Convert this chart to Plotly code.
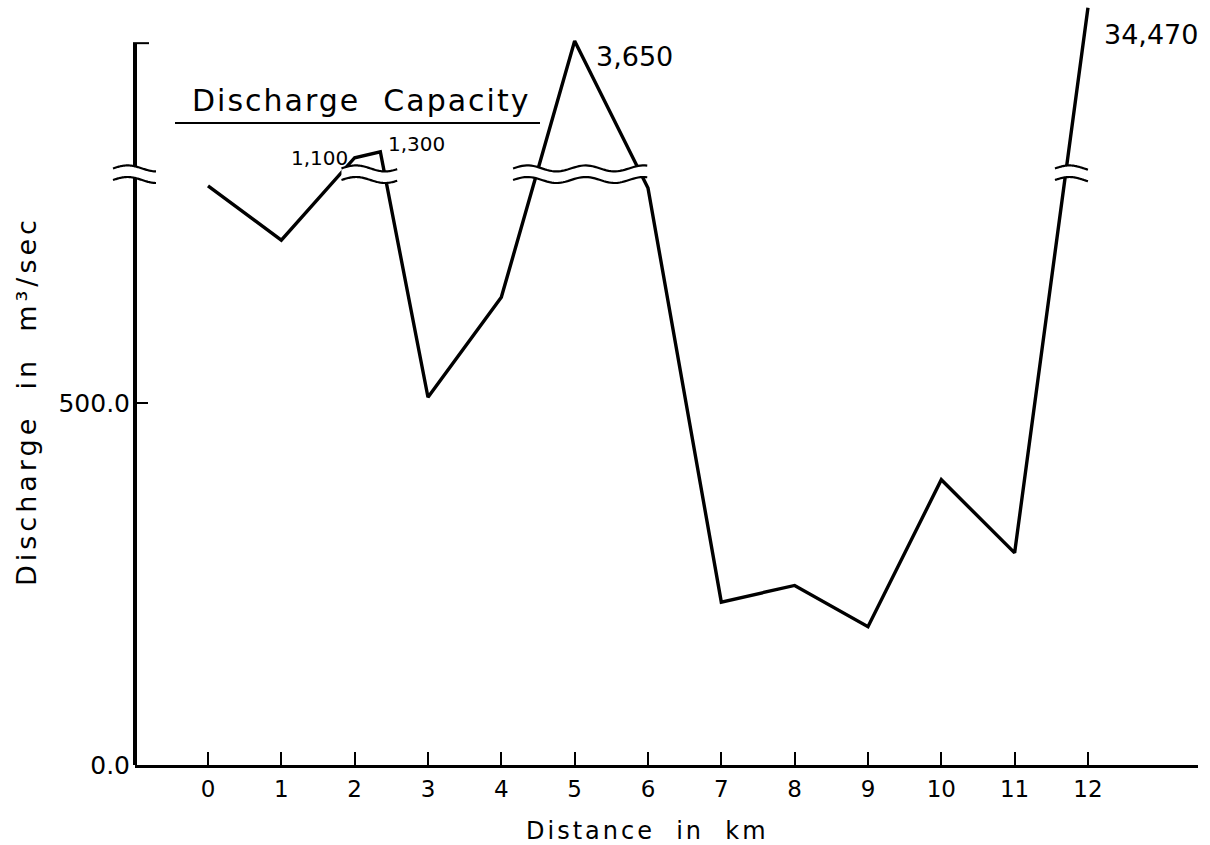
import numpy as np
import plotly.graph_objects as go

# ---------------- data ----------------
distance_km = [0, 1, 2, 2.35, 3, 4, 5, 6, 7, 8, 9, 10, 11, 12]
discharge = [800, 725, 1100, 1300, 508, 646, 3650, 797, 225, 248, 191, 394, 293, 34470]
labeled_points = [2, 3, 6, 13]           # indices of points carrying a value label

x_tick_vals = list(range(13))
x_tick_text = [str(v) for v in x_tick_vals]
y_tick_vals = [0, 500]
y_tick_text = ["0.0", "500.0"]

# broken y axis: linear below the break, compressed (log-interpolated) above it
BREAK_LOW, BREAK_HIGH = 808, 824
upper_scale_values = [815, 1300, 3650, 34470]
upper_scale_heights = [824, 847, 1000, 1046]


def axis_height(v):
    if v <= BREAK_LOW:
        return v
    return float(np.interp(np.log10(v), np.log10(upper_scale_values), upper_scale_heights))


plot_y = [axis_height(v) for v in discharge]

# ---------------- geometry ----------------
W, H = 1210, 845
ML, MR, MT, MB = 135, 12, 5, 80
PW, PH = W - ML - MR, H - MT - MB
XMIN = -0.9955
XMAX = XMIN + PW / 73.33
YMAX = PH / 0.724
AXIS_TOP = 997
FONT = "DejaVu Sans"


def xp(d):
    return (d - XMIN) / (XMAX - XMIN)


def yp(d):
    return d / YMAX


def pxx(px):
    return (px - ML) / PW


def pxy(py):
    return (H - MB - py) / PH


fig = go.Figure()
fig.add_trace(go.Scatter(x=distance_km, y=plot_y, mode="lines",
                         line=dict(color="black", width=3.4),
                         hoverinfo="skip", showlegend=False))

shapes = []
# y axis line with end cap
shapes.append(dict(type="line", xref="paper", yref="paper", x0=0, x1=0, y0=0, y1=yp(AXIS_TOP),
                   line=dict(color="black", width=4), layer="above"))
shapes.append(dict(type="line", xref="paper", yref="paper", x0=pxx(133), x1=pxx(149),
                   y0=yp(AXIS_TOP), y1=yp(AXIS_TOP), line=dict(color="black", width=2), layer="above"))
# underline of the title
shapes.append(dict(type="line", xref="paper", yref="paper", x0=pxx(175), x1=pxx(540),
                   y0=pxy(123), y1=pxy(123), line=dict(color="black", width=2), layer="above"))


def wave_pts(x0, x1, level, n=60, period_px=58):
    px0, px1 = x0 * PW, x1 * PW
    ts = np.linspace(0, 1, n)
    xs = x0 + (x1 - x0) * ts
    phase = (px1 - px0) * ts / period_px * 2 * np.pi
    ys = level + (3.0 / PH) * np.sin(phase)
    return xs, ys


def add_break(x0, x1):
    lo = yp(BREAK_LOW)
    hi = yp(BREAK_HIGH)
    xl, yl = wave_pts(x0, x1, lo)
    xh, yh = wave_pts(x0, x1, hi)
    pts = [f"{a:.5f},{b:.5f}" for a, b in zip(xl, yl)] + \
          [f"{a:.5f},{b:.5f}" for a, b in zip(xh[::-1], yh[::-1])]
    shapes.append(dict(type="path", xref="paper", yref="paper", path="M" + " L".join(pts) + " Z",
                       fillcolor="white", line=dict(width=0), layer="above"))
    for xs, ys in ((xl, yl), (xh, yh)):
        p = "M" + " L".join(f"{a:.5f},{b:.5f}" for a, b in zip(xs, ys))
        shapes.append(dict(type="path", xref="paper", yref="paper", path=p,
                           line=dict(color="black", width=2.2), layer="above"))


add_break(pxx(113), pxx(156))
add_break(xp(1.82), xp(2.58))
add_break(xp(4.16), xp(5.99))
add_break(xp(11.55), xp(12.0))

annotations = []
label_style = {
    2: dict(xanchor="right", xshift=-5, yshift=0, size=20),
    3: dict(xanchor="left", xshift=6, yshift=8, size=20),
    6: dict(xanchor="left", xshift=19, yshift=-15, size=27),
    13: dict(xanchor="left", xshift=14, yshift=-27, size=27),
}
for i in labeled_points:
    st = label_style[i]
    annotations.append(dict(x=distance_km[i], y=plot_y[i], xref="x", yref="y",
                            text=f"{discharge[i]:,}", showarrow=False,
                            xanchor=st["xanchor"], yanchor="middle",
                            xshift=st["xshift"], yshift=st["yshift"],
                            font=dict(family=FONT, size=st["size"], color="black")))

annotations.append(dict(x=pxx(361), y=pxy(101), xref="paper", yref="paper",
                        text='<span style="letter-spacing:2px">Discharge  Capacity</span>',
                        showarrow=False, xanchor="center", yanchor="middle",
                        font=dict(family=FONT, size=30, color="black")))
annotations.append(dict(x=pxx(26), y=pxy(401), xref="paper", yref="paper",
                        text='<span style="letter-spacing:4px">Discharge  in  m³/sec</span>',
                        showarrow=False, textangle=-90, xanchor="center", yanchor="middle",
                        font=dict(family=FONT, size=27, color="black")))
annotations.append(dict(x=pxx(647), y=pxy(831), xref="paper", yref="paper",
                        text='<span style="letter-spacing:3px">Distance  in  km</span>',
                        showarrow=False, xanchor="center", yanchor="middle",
                        font=dict(family=FONT, size=24, color="black")))

fig.update_layout(
    width=W, height=H,
    margin=dict(l=ML, r=MR, t=MT, b=MB),
    paper_bgcolor="white", plot_bgcolor="white",
    shapes=shapes, annotations=annotations,
    showlegend=False,
    xaxis=dict(range=[XMIN, XMAX], tickmode="array", tickvals=x_tick_vals, ticktext=x_tick_text,
               ticks="inside", ticklen=13, tickwidth=2, tickcolor="black",
               showline=True, linecolor="black", linewidth=2.5,
               showgrid=False, zeroline=False, ticklabelstandoff=2,
               tickfont=dict(family=FONT, size=23, color="black")),
    yaxis=dict(range=[0, YMAX], tickmode="array", tickvals=y_tick_vals, ticktext=y_tick_text,
               ticks="inside", ticklen=13, tickwidth=2, tickcolor="black",
               showline=False, showgrid=False, zeroline=False, ticklabelstandoff=4,
               tickfont=dict(family=FONT, size=25, color="black")),
)

fig.write_html("out.html", config={"displayModeBar": False},
               post_script="document.body.style.margin='0';document.body.style.overflow='hidden';")
